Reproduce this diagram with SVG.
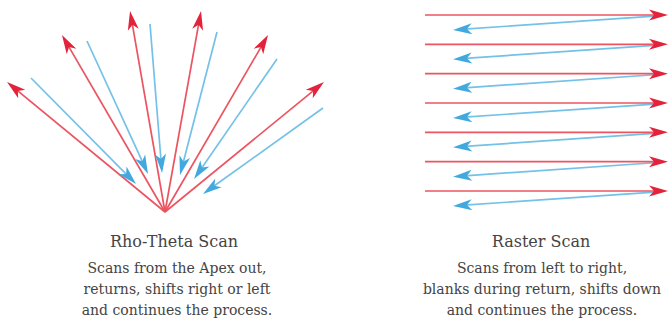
<svg xmlns="http://www.w3.org/2000/svg" width="670" height="320" viewBox="0 0 670 320">
  <style>
    .red { stroke: #eb5461; stroke-width: 1.7; fill: none; marker-end: url(#headRed); }
    .blue { stroke: #74c1e8; stroke-width: 1.7; fill: none; marker-end: url(#headBlue); }
    .title { font-family: "DejaVu Serif", "Liberation Serif", serif; font-size: 16px; fill: #444444; text-anchor: middle; }
    .body { font-family: "DejaVu Serif", "Liberation Serif", serif; font-size: 14px; fill: #444444; text-anchor: middle; }
  </style>
  <defs>
    <marker id="headRed" markerUnits="userSpaceOnUse" viewBox="-15 -15 30 30" markerWidth="30" markerHeight="30" refX="0" refY="0" orient="auto">
      <path d="M8,0 L-11,-5.5 L-6,0 L-11,5.5 Z" fill="#e3223c"/>
    </marker>
    <marker id="headBlue" markerUnits="userSpaceOnUse" viewBox="-15 -15 30 30" markerWidth="30" markerHeight="30" refX="0" refY="0" orient="auto">
      <path d="M8,0 L-11,-5.5 L-6,0 L-11,5.5 Z" fill="#42a9de"/>
    </marker>
  </defs>

  <g id="connectors">
    <g id="rho-theta-arrows">
      <line class="red" x1="165" y1="212" x2="13.2" y2="87.1"/>
      <line class="red" x1="165" y1="212" x2="66.0" y2="41.9"/>
      <line class="red" x1="165" y1="212" x2="131.4" y2="18.9"/>
      <line class="red" x1="165" y1="212" x2="199.6" y2="18.9"/>
      <line class="red" x1="165" y1="212" x2="264.0" y2="41.9"/>
      <line class="red" x1="165" y1="212" x2="317.8" y2="87.1"/>
      <line class="blue" x1="31" y1="78" x2="130.4" y2="178.3"/>
      <line class="blue" x1="87" y1="41" x2="144.7" y2="166.7"/>
      <line class="blue" x1="150" y1="24" x2="161.4" y2="165.0"/>
      <line class="blue" x1="217" y1="32" x2="182.0" y2="167.3"/>
      <line class="blue" x1="277" y1="59" x2="198.6" y2="172.4"/>
      <line class="blue" x1="323" y1="108" x2="209.5" y2="189.3"/>
    </g>
    <g id="raster-arrows">
      <line class="blue" x1="658" y1="15.8" x2="461" y2="29.4"/>
      <line class="blue" x1="658" y1="45.1" x2="461" y2="58.7"/>
      <line class="blue" x1="658" y1="74.5" x2="461" y2="88.1"/>
      <line class="blue" x1="658" y1="103.8" x2="461" y2="117.4"/>
      <line class="blue" x1="658" y1="133.1" x2="461" y2="146.7"/>
      <line class="blue" x1="658" y1="162.5" x2="461" y2="176.1"/>
      <line class="blue" x1="658" y1="191.8" x2="461" y2="205.4"/>
      <line class="red" x1="425" y1="15" x2="660" y2="15"/>
      <line class="red" x1="425" y1="44.3" x2="660" y2="44.3"/>
      <line class="red" x1="425" y1="73.7" x2="660" y2="73.7"/>
      <line class="red" x1="425" y1="103" x2="660" y2="103"/>
      <line class="red" x1="425" y1="132.3" x2="660" y2="132.3"/>
      <line class="red" x1="425" y1="161.7" x2="660" y2="161.7"/>
      <line class="red" x1="425" y1="191" x2="660" y2="191"/>
    </g>
  </g>

  <g id="rho-theta-label">
    <text class="title" x="174" y="247">Rho-Theta Scan</text>
    <text class="body" x="177" y="273">Scans from the Apex out,</text>
    <text class="body" x="177" y="294">returns, shifts right or left</text>
    <text class="body" x="177" y="315">and continues the process.</text>
  </g>

  <g id="raster-label">
    <text class="title" x="541" y="247">Raster Scan</text>
    <text class="body" x="542" y="273">Scans from left to right,</text>
    <text class="body" x="542" y="294">blanks during return, shifts down</text>
    <text class="body" x="542" y="315">and continues the process.</text>
  </g>
</svg>
